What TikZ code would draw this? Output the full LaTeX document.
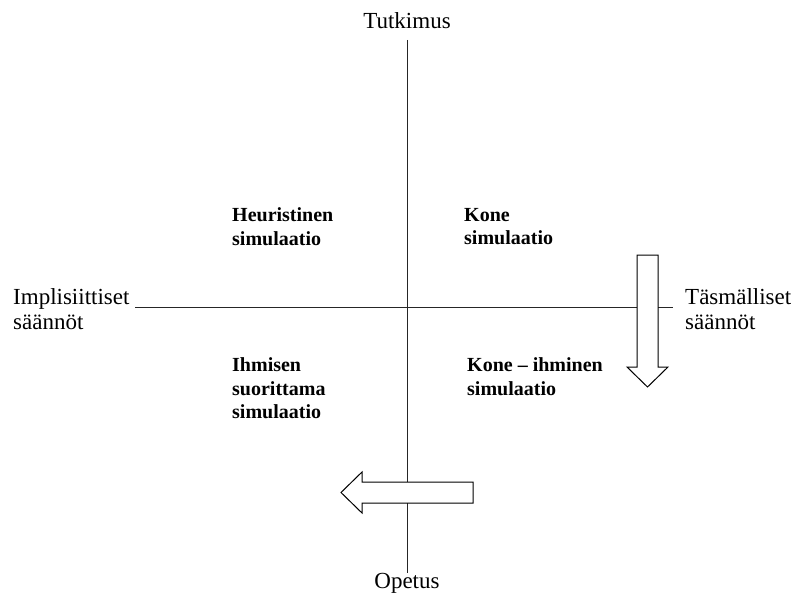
\documentclass[tikz,border=0pt]{standalone}
\usepackage{fontspec}
\setmainfont{Liberation Serif}
\begin{document}
\begin{tikzpicture}[x=1pt,y=-1pt,
  axis/.style={draw=black!85,line width=0.8pt},
  blockarrow/.style={draw=black,fill=white,line width=1pt,line join=miter},
  axislabel/.style={inner sep=0pt,align=left,font=\fontsize{23}{25}\selectfont},
  quadlabel/.style={inner sep=0pt,align=left,anchor=west,font=\fontsize{20}{23.5}\selectfont\bfseries}]
\useasboundingbox (0,0) rectangle (794,599);
% axes
\coordinate (top) at (407,40);
\coordinate (bottom) at (407,573);
\coordinate (left) at (135,307);
\coordinate (right) at (673,307);
\draw[axis] (top) -- (bottom);
\draw[axis] (left) -- (right);
% axis labels
\node[axislabel] (tut) at (407,21) {Tutkimus};
\node[axislabel] (ope) at (407,583) {Opetus};
\node[axislabel,anchor=west] (impl) at (13,309.5) {Implisiittiset\\säännöt};
\node[axislabel,anchor=west] (tasm) at (685,309.5) {Täsmälliset\\säännöt};
% quadrant labels
\node[quadlabel] (heur) at (232,226.5) {Heuristinen\\simulaatio};
\node[quadlabel] (kone) at (464,226.5) {Kone\\simulaatio};
\node[quadlabel] (ihm) at (232,388.5) {Ihmisen\\suorittama\\simulaatio};
\node[quadlabel] (koih) at (467,376.5) {Kone – ihminen\\simulaatio};
% block arrows
\draw[blockarrow] (637,255) -- (658,255) -- (658,367) -- (668,367) -- (647.5,387)
  -- (627,367) -- (637,367) -- cycle;
\draw[blockarrow] (473,482) -- (473,503) -- (362,503) -- (362,513) -- (341,492.5)
  -- (362,472) -- (362,482) -- cycle;
\end{tikzpicture}
\end{document}
